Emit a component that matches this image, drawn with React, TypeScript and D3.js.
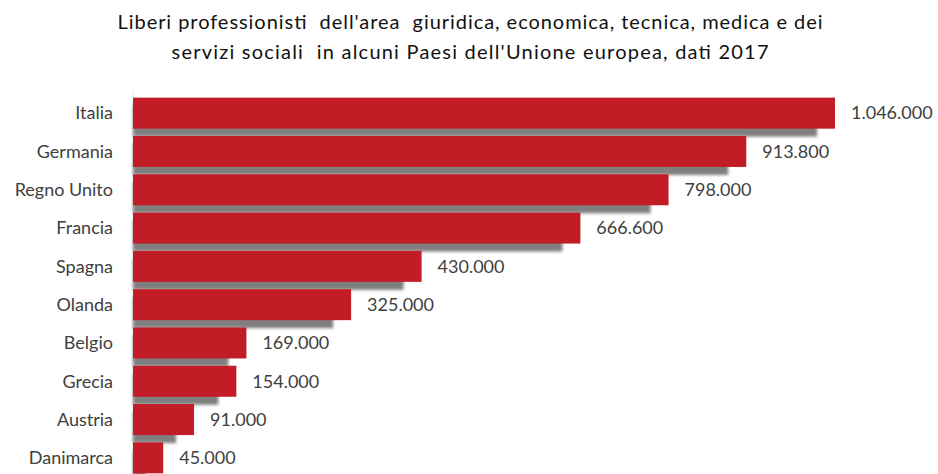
import React, { useEffect, useRef } from 'react';
import * as d3 from 'd3';

const countries = ['Italia', 'Germania', 'Regno Unito', 'Francia', 'Spagna', 'Olanda', 'Belgio', 'Grecia', 'Austria', 'Danimarca'];
const values = [1046000, 913800, 798000, 666600, 430000, 325000, 169000, 154000, 91000, 45000];
const titleLines = [
  "Liberi professionisti  dell'area  giuridica, economica, tecnica, medica e dei",
  "servizi sociali  in alcuni Paesi dell'Unione europea, dati 2017",
];
const titleWidths = [705, 597];

const W = 938;
const H = 474;

export default function App() {
  const ref = useRef<SVGSVGElement>(null);

  useEffect(() => {
    if (!ref.current) return;
    const svg = d3.select(ref.current);
    svg.selectAll('*').remove();

    const font = 'Lato, "Open Sans", sans-serif';
    const data = countries.map((c, i) => ({ name: c, value: values[i] }));

    const x = d3.scaleLinear().domain([0, 1046000]).range([133, 835]);
    const y = d3.scaleBand<string>()
      .domain(countries)
      .range([94, 477])
      .paddingInner(0.19)
      .paddingOuter(0.095);

    const fmt = d3.formatLocale({ decimal: ',', thousands: '.', grouping: [3], currency: ['', '€'] }).format(',d');

    const defs = svg.append('defs');
    const filter = defs.append('filter').attr('id', 'shadow-blur')
      .attr('x', '-10%').attr('y', '-50%').attr('width', '120%').attr('height', '200%');
    filter.append('feGaussianBlur').attr('stdDeviation', 1.6);

    // title
    svg.append('g')
      .selectAll('text')
      .data(titleLines)
      .join('text')
      .attr('x', 470)
      .attr('y', (_, i) => 29 + i * 30)
      .attr('text-anchor', 'middle')
      .attr('font-family', font)
      .attr('font-size', 20)
      .attr('fill', '#111')
      .attr('textLength', (_, i) => titleWidths[i])
      .attr('lengthAdjust', 'spacing')
      .style('white-space', 'pre')
      .text(d => d);

    // faint axis line
    svg.append('line')
      .attr('x1', x(0)).attr('x2', x(0))
      .attr('y1', 90).attr('y2', H)
      .attr('stroke', '#dfe6ec')
      .attr('stroke-width', 1);

    // shadows
    svg.append('g')
      .selectAll('rect')
      .data(data)
      .join('rect')
      .attr('x', x(0))
      .attr('y', d => y(d.name)! + 8)
      .attr('width', d => Math.max(0, x(d.value) - x(0) - 18))
      .attr('height', y.bandwidth())
      .attr('fill', '#7f7f7f')
      .attr('filter', 'url(#shadow-blur)');

    // bars
    svg.append('g')
      .selectAll('rect')
      .data(data)
      .join('rect')
      .attr('x', x(0))
      .attr('y', d => y(d.name)!)
      .attr('width', d => x(d.value) - x(0))
      .attr('height', y.bandwidth())
      .attr('fill', '#c21d26');

    // category labels
    svg.append('g')
      .selectAll('text')
      .data(data)
      .join('text')
      .attr('x', 113)
      .attr('y', d => y(d.name)! + y.bandwidth() / 2)
      .attr('dy', '0.35em')
      .attr('text-anchor', 'end')
      .attr('font-family', font)
      .attr('font-size', 18)
      .attr('fill', '#404040')
      .text(d => d.name);

    // value labels
    svg.append('g')
      .selectAll('text')
      .data(data)
      .join('text')
      .attr('x', d => x(d.value) + 16)
      .attr('y', d => y(d.name)! + y.bandwidth() / 2)
      .attr('dy', '0.35em')
      .attr('font-family', font)
      .attr('font-size', 18)
      .attr('fill', '#404040')
      .text(d => fmt(d.value));
  }, []);

  return (
    <svg
      ref={ref}
      width={W}
      height={H}
      style={{ position: 'absolute', top: 0, left: 0, background: '#fff', display: 'block' }}
    />
  );
}
